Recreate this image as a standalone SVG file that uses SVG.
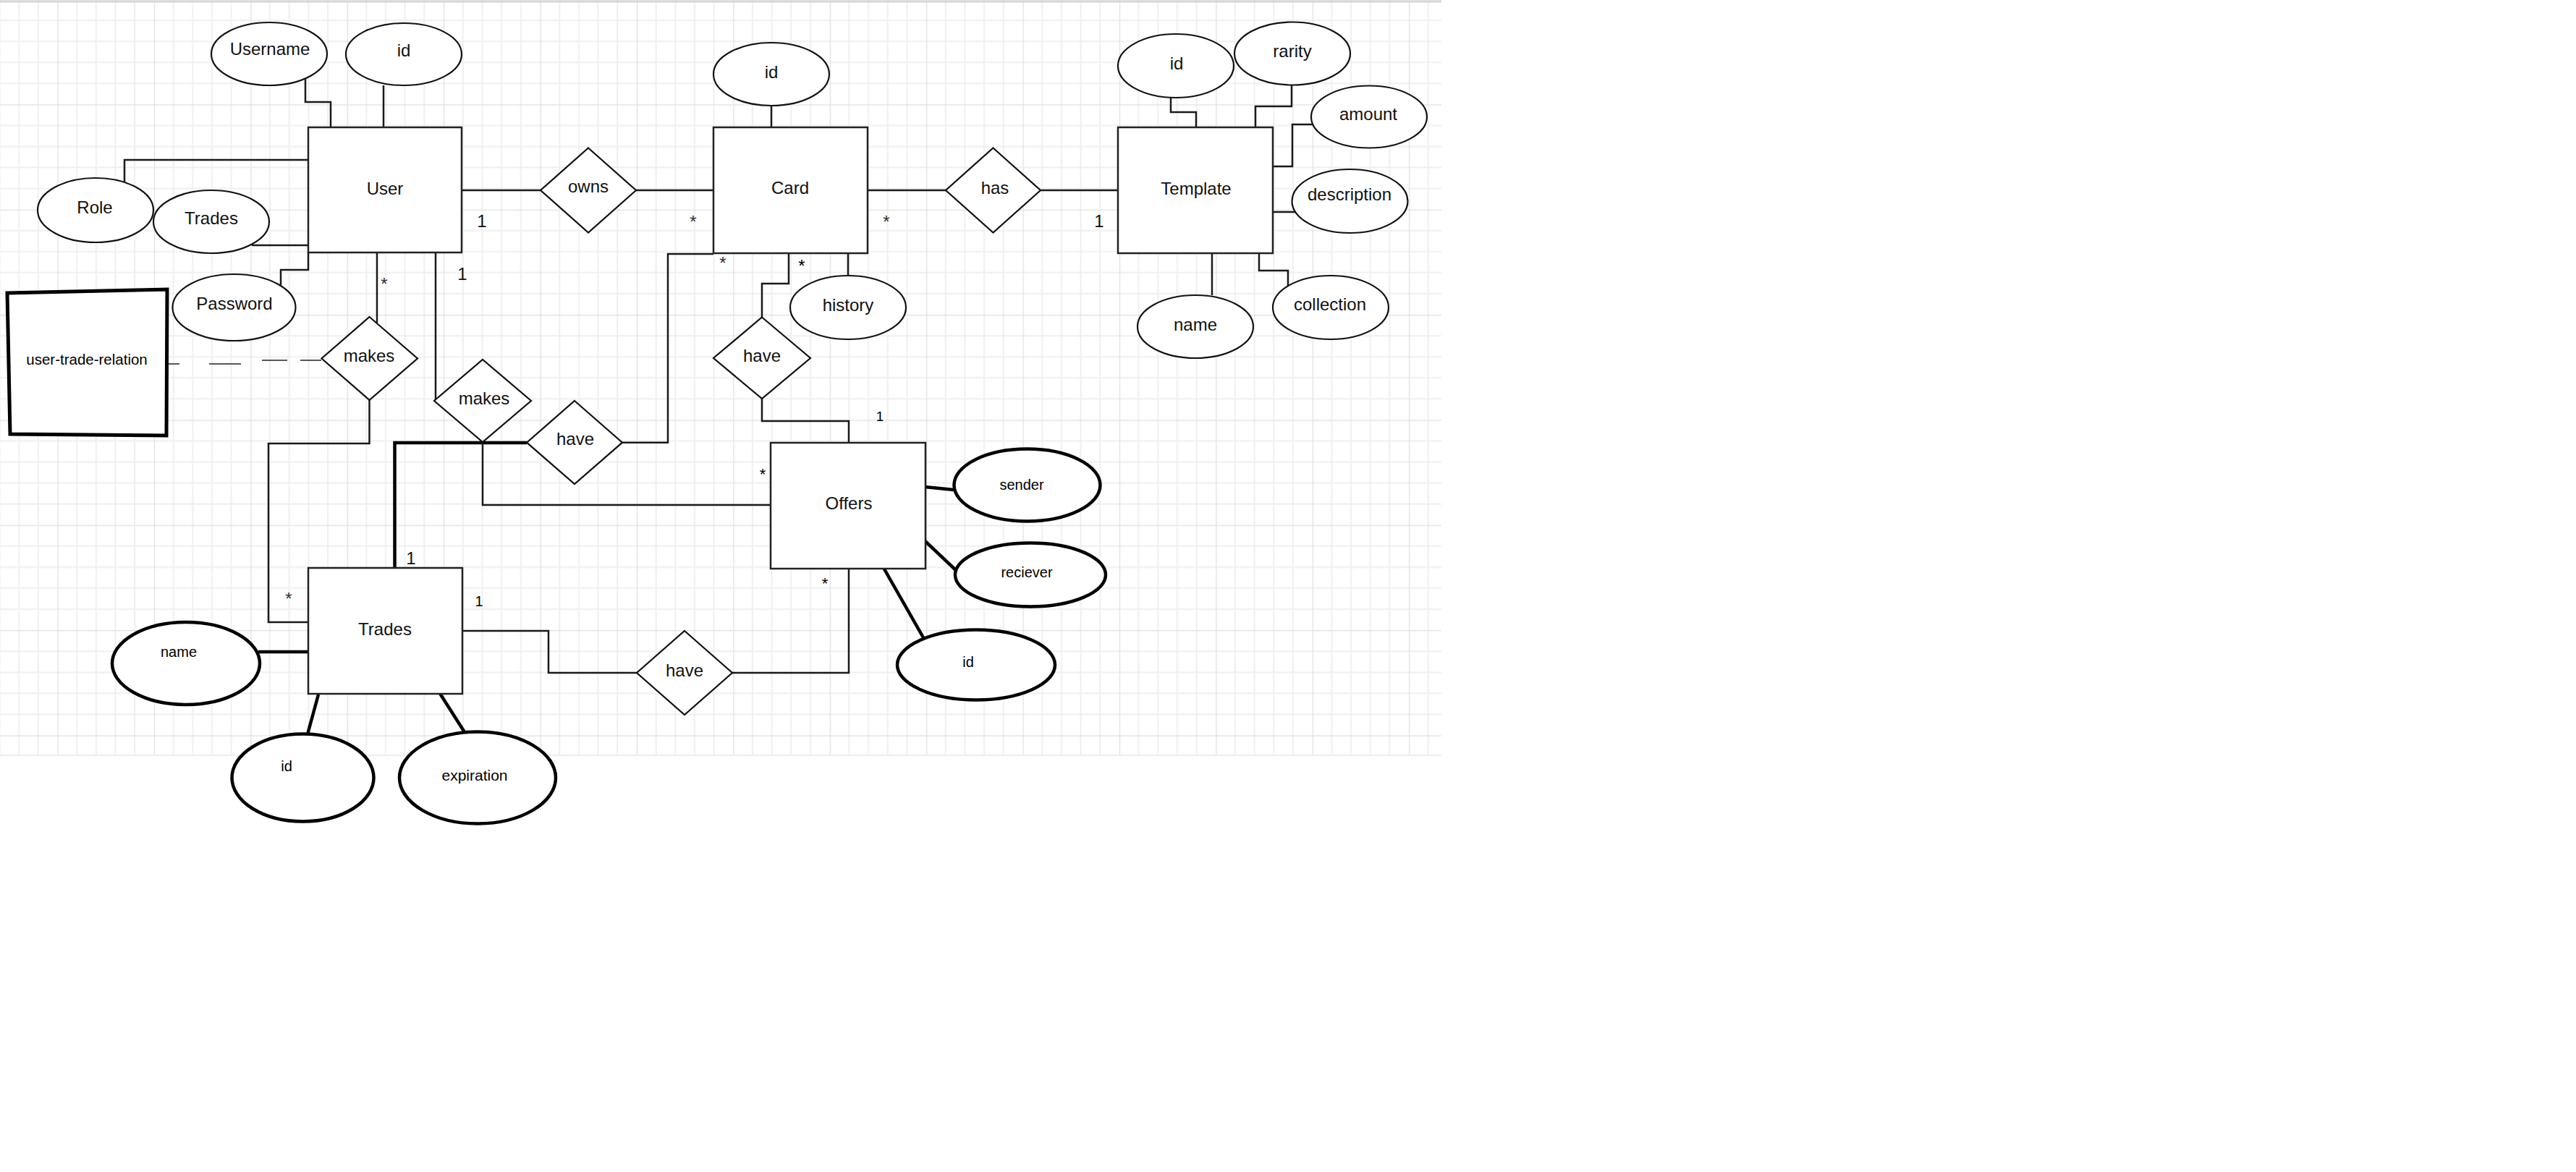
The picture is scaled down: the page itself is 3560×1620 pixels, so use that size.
<svg xmlns="http://www.w3.org/2000/svg" width="3560" height="1620" viewBox="0 0 3560 1620">
<defs>
<pattern id="grid" patternUnits="userSpaceOnUse" x="79.5" y="-1" width="133.4" height="145.35">
<path d="M26.68,0V145.35M53.36,0V145.35M80.04,0V145.35M106.72,0V145.35M0,29.07H133.4M0,58.14H133.4M0,87.21H133.4M0,116.28H133.4" stroke="#efefef" stroke-width="2" fill="none"/>
<path d="M0,0V145.35M0,0H133.4" stroke="#e0e0e0" stroke-width="2.5" fill="none"/>
</pattern>
<style>
.ent{fill:#fff;stroke:#222;stroke-width:2.5}
.att{fill:#fff;stroke:#111;stroke-width:2.2}
.attb{fill:#fff;stroke:#000;stroke-width:4.5}
.rel{fill:#fff;stroke:#111;stroke-width:2.2}
.ln{fill:none;stroke:#1a1a1a;stroke-width:2.5}
.lnb{fill:none;stroke:#000;stroke-width:4.5}
.t{font-family:"Liberation Sans",Arial,sans-serif;font-size:24px;fill:#111;text-anchor:middle}
.c{font-family:"Liberation Sans",Arial,sans-serif;font-size:20px;fill:#000;text-anchor:middle}
.s{font-family:"Liberation Sans",Arial,sans-serif;font-size:24px;fill:#333;text-anchor:middle}
</style>
</defs>
<rect x="0" y="0" width="3560" height="1620" fill="#fff"/>
<rect x="0" y="0" width="1992" height="1044" fill="url(#grid)"/>
<line x1="0" y1="2" x2="1992" y2="2" stroke="#d6d6d6" stroke-width="3"/>
<line x1="0" y1="1044" x2="1992" y2="1044" stroke="#ededed" stroke-width="2"/>

<g id="connectors">
<path class="ln" d="M422,107V141H457V176"/>
<path class="ln" d="M530,118V176"/>
<path class="ln" d="M172,252V221H426"/>
<path class="ln" d="M348,339H426"/>
<path class="ln" d="M388,394V373H426V349"/>
<path class="ln" d="M638,263H747"/>
<path class="ln" d="M879,263H986"/>
<path class="ln" d="M1066,146V176"/>
<path class="ln" d="M1199,263H1307"/>
<path class="ln" d="M1438,263H1545"/>
<path class="ln" d="M1618,135V155H1653V176"/>
<path class="ln" d="M1785,118V147H1735V176"/>
<path class="ln" d="M1814,172H1786V230H1759"/>
<path class="ln" d="M1759,293H1791"/>
<path class="ln" d="M1675,350V408"/>
<path class="ln" d="M1740,350V374H1780V395"/>
<path class="ln" d="M1172,350V381"/>
<path class="ln" d="M1090,350V392H1053V438.5"/>
<path class="ln" d="M1053,551V582H1173V612"/>
<path class="ln" d="M986,351H923V611.7H860"/>
<path class="ln" d="M521,349V446"/>
<path fill="none" stroke="#222" stroke-width="1.6" d="M223,503H248M289,503H333M362,498H397M415,498H444"/>
<path class="ln" d="M510.5,553V613H371V860H426"/>
<path class="ln" d="M602,349V552"/>
<path class="lnb" d="M545.5,785V612H728"/>
<path class="ln" d="M667,611V698H1065"/>
<path class="ln" d="M639,872H758V930H880"/>
<path class="ln" d="M1012,930H1173V786"/>
<path class="lnb" d="M357,901H426"/>
<path class="lnb" d="M440,960L425,1015"/>
<path class="lnb" d="M607,957L642,1012"/>
<path class="lnb" d="M1278,673L1318,677"/>
<path class="lnb" d="M1278,747.5L1323,790"/>
<path class="lnb" d="M1220,783L1277,883"/>
</g>

<g id="user"><rect class="ent" x="426" y="176" width="212" height="173"/><text class="t" x="532" y="269">User</text></g>
<g id="card"><rect class="ent" x="986" y="176" width="213" height="174"/><text class="t" x="1092" y="268">Card</text></g>
<g id="template"><rect class="ent" x="1545" y="176" width="214" height="174"/><text class="t" x="1653" y="269">Template</text></g>
<g id="trades"><rect class="ent" x="426" y="785" width="213" height="174"/><text class="t" x="532" y="878">Trades</text></g>
<g id="offers"><rect class="ent" x="1065" y="612" width="214" height="174"/><text class="t" x="1173" y="704">Offers</text></g>
<g id="user-trade-relation"><path d="M10,405L231,400L230,602L14,600Z" fill="#fff" stroke="#000" stroke-width="5"/><text class="c" x="120" y="504" style="font-size:20.5px">user-trade-relation</text></g>

<g id="user-username"><ellipse class="att" cx="372" cy="74.5" rx="80" ry="43.5"/><text class="t" x="373" y="76">Username</text></g>
<g id="user-id"><ellipse class="att" cx="558" cy="75" rx="80" ry="43"/><text class="t" x="558" y="78">id</text></g>
<g id="user-role"><ellipse class="att" cx="132" cy="290.5" rx="80" ry="44.5"/><text class="t" x="131" y="295">Role</text></g>
<g id="user-trades"><ellipse class="att" cx="292" cy="306.5" rx="80" ry="43.5"/><text class="t" x="292" y="310">Trades</text></g>
<g id="user-password"><ellipse class="att" cx="323.5" cy="425" rx="85" ry="46"/><text class="t" x="324" y="428">Password</text></g>
<g id="card-id"><ellipse class="att" cx="1066" cy="102.5" rx="80" ry="43.5"/><text class="t" x="1066" y="108">id</text></g>
<g id="card-history"><ellipse class="att" cx="1172" cy="425" rx="80" ry="44"/><text class="t" x="1172" y="430">history</text></g>
<g id="template-id"><ellipse class="att" cx="1625" cy="91" rx="80" ry="44"/><text class="t" x="1626" y="96">id</text></g>
<g id="template-rarity"><ellipse class="att" cx="1786" cy="74" rx="80" ry="43.5"/><text class="t" x="1786" y="79">rarity</text></g>
<g id="template-amount"><ellipse class="att" cx="1892" cy="161.5" rx="80" ry="43"/><text class="t" x="1891" y="166">amount</text></g>
<g id="template-description"><ellipse class="att" cx="1865.5" cy="278" rx="80" ry="44"/><text class="t" x="1865" y="277">description</text></g>
<g id="template-name"><ellipse class="att" cx="1652" cy="451.5" rx="80" ry="43.5"/><text class="t" x="1652" y="457">name</text></g>
<g id="template-collection"><ellipse class="att" cx="1839" cy="425" rx="80" ry="44"/><text class="t" x="1838" y="429">collection</text></g>
<g id="trades-name"><ellipse class="attb" cx="257" cy="917" rx="102" ry="57"/><text class="c" x="247" y="908">name</text></g>
<g id="trades-id"><ellipse class="attb" cx="418.5" cy="1075" rx="98" ry="60.5"/><text class="c" x="396" y="1066">id</text></g>
<g id="trades-expiration"><ellipse class="attb" cx="660" cy="1075" rx="108" ry="63.5"/><text class="c" x="656" y="1079" style="font-size:21px">expiration</text></g>
<g id="offers-sender"><ellipse class="attb" cx="1419.5" cy="670.5" rx="101" ry="50"/><text class="c" x="1412" y="677">sender</text></g>
<g id="offers-reciever"><ellipse class="attb" cx="1424" cy="794.5" rx="104" ry="44"/><text class="c" x="1419" y="798">reciever</text></g>
<g id="offers-id"><ellipse class="attb" cx="1349" cy="919" rx="109" ry="48.5"/><text class="c" x="1338" y="922">id</text></g>

<g id="rel-owns"><polygon class="rel" points="813,204.5 879,263 813,321.5 747,263"/><text class="t" x="813" y="266">owns</text></g>
<g id="rel-has"><polygon class="rel" points="1372.5,204.5 1438,263 1372.5,321.5 1307,263"/><text class="t" x="1375" y="268">has</text></g>
<g id="rel-makes-1"><polygon class="rel" points="510.5,438 577,495.5 510.5,553 444.5,495.5"/><text class="t" x="510" y="500">makes</text></g>
<g id="rel-makes-2"><polygon class="rel" points="667,497 734,554 667,611 600,554"/><text class="t" x="669" y="559">makes</text></g>
<g id="rel-have-card"><polygon class="rel" points="1053,438.5 1120,495 1053,551 986,495"/><text class="t" x="1053" y="500">have</text></g>
<g id="rel-have-trades"><polygon class="rel" points="794,554 860,611.7 794,669 728,611.7"/><text class="t" x="795" y="615">have</text></g>
<g id="rel-have-offers"><polygon class="rel" points="946,872 1012,930 946,988 880,930"/><text class="t" x="946" y="935">have</text></g>

<g id="cardinalities">
<text class="t" x="666" y="314">1</text>
<text class="t" x="639" y="387">1</text>
<text class="s" x="531" y="401">*</text>
<text class="s" x="958" y="315">*</text>
<text class="s" x="1225" y="315">*</text>
<text class="s" x="999" y="372">*</text>
<text class="s" x="1108" y="376" style="fill:#000">*</text>
<text class="t" x="1519" y="314">1</text>
<text class="c" x="1216" y="582" style="font-size:19px">1</text>
<text class="s" x="1054" y="663" style="fill:#000;font-size:22px">*</text>
<text class="s" x="1140" y="814" style="fill:#000;font-size:22px">*</text>
<text class="t" x="568" y="780">1</text>
<text class="c" x="662" y="838">1</text>
<text class="s" x="399" y="836">*</text>
</g>
</svg>
